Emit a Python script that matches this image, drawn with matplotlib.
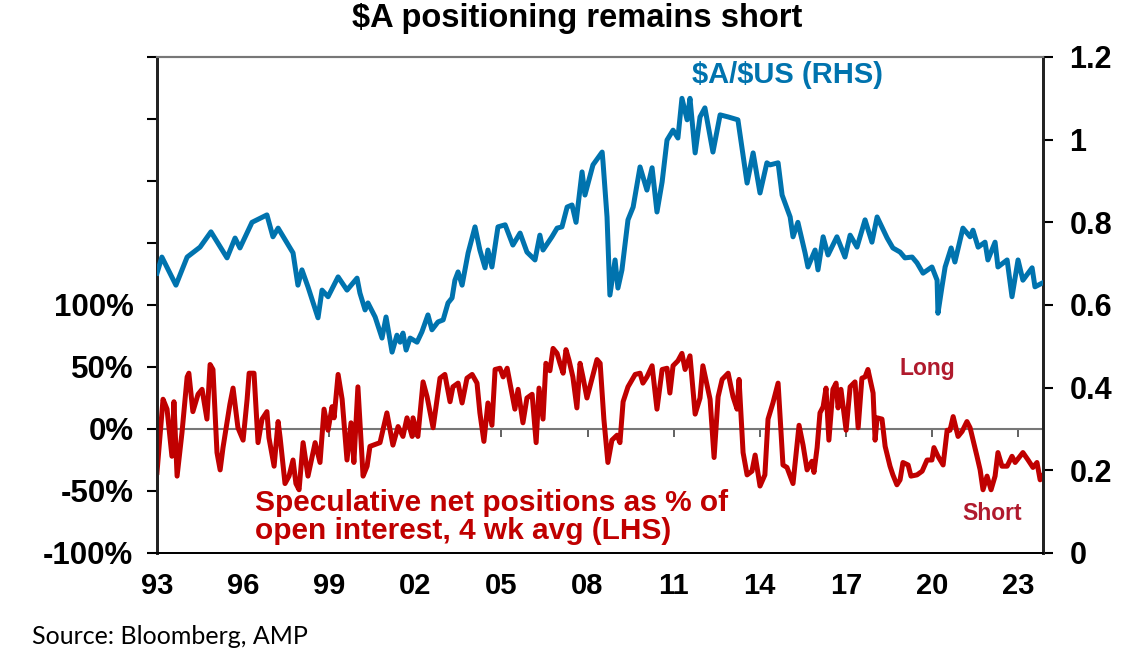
import matplotlib
matplotlib.use("Agg")
import matplotlib.pyplot as plt
from matplotlib.ticker import FuncFormatter

# $A/$US (right axis)
aud_years = [1993.00, 1993.17, 1993.66, 1994.05, 1994.50, 1994.88, 1995.44, 1995.72, 1995.89,
             1996.31, 1996.83, 1997.04, 1997.22, 1997.53, 1997.74, 1997.91, 1998.05, 1998.26,
             1998.61, 1998.75, 1998.96, 1999.31, 1999.62, 1999.97, 2000.07, 2000.25, 2000.35,
             2000.60, 2000.84, 2000.98, 2001.19, 2001.36, 2001.47, 2001.57, 2001.68, 2001.82,
             2002.06, 2002.23, 2002.44, 2002.58, 2002.79, 2002.97, 2003.14, 2003.28, 2003.38,
             2003.49, 2003.63, 2003.84, 2004.08, 2004.25, 2004.43, 2004.53, 2004.67, 2004.88,
             2005.13, 2005.40, 2005.65, 2005.89, 2006.17, 2006.34, 2006.45, 2006.76, 2006.94,
             2007.11, 2007.29, 2007.46, 2007.60, 2007.81, 2007.91, 2008.19, 2008.51, 2008.54,
             2008.68, 2008.78, 2008.96, 2009.06, 2009.20, 2009.41, 2009.59, 2009.83, 2010.07,
             2010.25, 2010.42, 2010.60, 2010.77, 2010.98, 2011.15, 2011.29, 2011.47, 2011.57,
             2011.75, 2011.92, 2012.09, 2012.37, 2012.62, 2012.90, 2013.24, 2013.56, 2013.77,
             2014.01, 2014.25, 2014.36, 2014.64, 2014.78, 2015.06, 2015.16, 2015.33, 2015.58,
             2015.68, 2015.93, 2016.03, 2016.21, 2016.38, 2016.69, 2016.97, 2017.15, 2017.39,
             2017.67, 2017.91, 2018.09, 2018.44, 2018.64, 2018.89, 2019.06, 2019.31, 2019.48,
             2019.69, 2020.00, 2020.18, 2020.21, 2020.35, 2020.46, 2020.67, 2020.80, 2021.08,
             2021.33, 2021.43, 2021.61, 2021.85, 2021.95, 2022.20, 2022.30, 2022.62, 2022.79,
             2023.00, 2023.17, 2023.49, 2023.59, 2023.84]
aud_usd = [0.677, 0.716, 0.648, 0.716, 0.740, 0.777, 0.714, 0.762, 0.738,
           0.800, 0.818, 0.765, 0.786, 0.750, 0.726, 0.648, 0.685, 0.644,
           0.569, 0.636, 0.620, 0.668, 0.636, 0.665, 0.629, 0.588, 0.605,
           0.571, 0.520, 0.571, 0.486, 0.527, 0.510, 0.532, 0.491, 0.520,
           0.510, 0.535, 0.576, 0.540, 0.559, 0.564, 0.605, 0.617, 0.660,
           0.680, 0.648, 0.726, 0.789, 0.733, 0.690, 0.733, 0.692, 0.789,
           0.794, 0.745, 0.774, 0.728, 0.709, 0.769, 0.733, 0.765, 0.786,
           0.789, 0.837, 0.842, 0.800, 0.922, 0.866, 0.939, 0.970, 0.946,
           0.813, 0.624, 0.709, 0.641, 0.685, 0.806, 0.837, 0.934, 0.878,
           0.932, 0.825, 0.898, 0.999, 1.023, 1.004, 1.100, 1.048, 1.100,
           0.968, 1.055, 1.077, 0.970, 1.060, 1.055, 1.048, 0.895, 0.968,
           0.871, 0.944, 0.939, 0.944, 0.866, 0.813, 0.765, 0.800, 0.726,
           0.692, 0.733, 0.685, 0.765, 0.721, 0.765, 0.716, 0.769, 0.740,
           0.806, 0.752, 0.813, 0.762, 0.738, 0.728, 0.714, 0.716, 0.702,
           0.677, 0.692, 0.660, 0.580, 0.644, 0.692, 0.738, 0.704, 0.786,
           0.765, 0.781, 0.740, 0.752, 0.709, 0.752, 0.692, 0.709, 0.620,
           0.709, 0.660, 0.690, 0.644, 0.653]

# speculative net positions, % of open interest (left axis)
pos_years = [1993.00, 1993.21, 1993.35, 1993.52, 1993.59, 1993.70, 1993.87, 1994.05, 1994.11,
             1994.25, 1994.43, 1994.57, 1994.74, 1994.85, 1994.95, 1995.09, 1995.20, 1995.30,
             1995.54, 1995.65, 1995.82, 1996.00, 1996.14, 1996.21, 1996.38, 1996.52, 1996.66,
             1996.83, 1996.90, 1997.08, 1997.22, 1997.29, 1997.46, 1997.60, 1997.74, 1997.84,
             1997.95, 1998.09, 1998.26, 1998.51, 1998.68, 1998.82, 1998.96, 1999.10, 1999.17,
             1999.31, 1999.45, 1999.62, 1999.76, 1999.86, 2000.00, 2000.18, 2000.32, 2000.42,
             2000.77, 2001.01, 2001.22, 2001.40, 2001.57, 2001.71, 2001.89, 2001.92, 2002.09,
             2002.27, 2002.41, 2002.62, 2002.86, 2003.03, 2003.21, 2003.31, 2003.49, 2003.63,
             2003.80, 2003.98, 2004.15, 2004.25, 2004.39, 2004.53, 2004.67, 2004.78, 2004.95,
             2005.06, 2005.20, 2005.37, 2005.47, 2005.58, 2005.75, 2005.89, 2006.07, 2006.21,
             2006.31, 2006.45, 2006.55, 2006.69, 2006.80, 2006.94, 2007.04, 2007.15, 2007.25,
             2007.36, 2007.49, 2007.63, 2007.74, 2007.84, 2007.98, 2008.16, 2008.33, 2008.44,
             2008.57, 2008.71, 2008.85, 2009.03, 2009.13, 2009.24, 2009.41, 2009.66, 2009.83,
             2009.93, 2010.07, 2010.25, 2010.42, 2010.60, 2010.77, 2010.87, 2010.98, 2011.15,
             2011.29, 2011.40, 2011.57, 2011.75, 2011.92, 2012.02, 2012.27, 2012.41, 2012.55,
             2012.69, 2012.90, 2013.07, 2013.21, 2013.28, 2013.42, 2013.56, 2013.73, 2013.84,
             2014.01, 2014.18, 2014.29, 2014.46, 2014.64, 2014.81, 2014.95, 2015.13, 2015.16,
             2015.26, 2015.37, 2015.51, 2015.65, 2015.82, 2015.89, 2016.00, 2016.10, 2016.21,
             2016.31, 2016.41, 2016.55, 2016.66, 2016.73, 2016.83, 2017.01, 2017.15, 2017.32,
             2017.43, 2017.56, 2017.67, 2017.77, 2017.95, 2018.02, 2018.09, 2018.26, 2018.37,
             2018.54, 2018.64, 2018.78, 2018.89, 2018.99, 2019.17, 2019.27, 2019.48, 2019.66,
             2019.83, 2020.00, 2020.07, 2020.21, 2020.39, 2020.53, 2020.63, 2020.74, 2020.91,
             2021.05, 2021.22, 2021.33, 2021.57, 2021.68, 2021.78, 2021.92, 2022.06, 2022.20,
             2022.30, 2022.44, 2022.62, 2022.79, 2022.90, 2023.17, 2023.35, 2023.52, 2023.66,
             2023.77, 2023.84]
pos_pct = [-35, 24, 16, -22, 22, -38, -3, 42, 45,
           14, 28, 32, 8, 52, 48, -19, -33, -15,
           20, 33, 1, -9, 24, 45, 45, -11, 8,
           14, -7, -30, 6, -7, -44, -38, -25, -44,
           -49, -11, -38, -11, -27, 16, -1, 18, 9,
           44, 24, -25, 5, -27, 34, -38, -30, -14,
           -11, 13, -13, 2, -6, 9, -6, 9, -6,
           38, 26, 1, 41, 44, 22, 34, 37, 21,
           41, 44, 37, 13, -10, 21, 3, 48, 49,
           42, 49, 28, 16, 32, 5, 25, 28, -11,
           33, 8, 53, 47, 65, 61, 53, 45, 64,
           55, 42, 17, 53, 42, 25, 41, 56, 53,
           8, -27, -9, -5, -11, 22, 34, 44, 45,
           37, 42, 51, 16, 48, 49, 29, 51, 55,
           61, 48, 59, 12, 25, 51, 24, -23, 26,
           40, 45, 26, 16, 40, -19, -37, -34, -21,
           -46, -37, 8, 21, 37, -29, -31, -42, -44,
           -22, 3, -13, -33, -26, -35, -15, 13, 18,
           33, -9, 32, 37, 17, 32, -1, 34, 38,
           1, 41, 42, 48, 29, -9, 9, 8, -14,
           -30, -37, -45, -41, -27, -29, -38, -37, -34,
           -25, -25, -15, -22, -29, -1, -1, 10, -6,
           -2, 6, 1, -22, -33, -49, -38, -49, -38,
           -19, -30, -30, -22, -27, -19, -25, -31, -27,
           -41, -38]

year_ticks = list(range(1993, 2024, 3))
year_labels = [f"{y % 100:02d}" for y in year_ticks]

BLUE = "#0073AE"
RED = "#C00000"
LABEL_RED = "#B01A2D"

plt.rcParams["font.family"] = ["Liberation Sans", "DejaVu Sans"]
plt.rcParams["text.parse_math"] = False

fig = plt.figure(figsize=(11.43, 6.69), dpi=100)
ax = fig.add_axes([157 / 1143, 1 - 553 / 669, 886 / 1143, 496 / 669])
ax2 = ax.twinx()

ax.plot(pos_years, pos_pct, color=RED, lw=3.6, solid_joinstyle="round", zorder=3)
ax2.plot(aud_years, aud_usd, color=BLUE, lw=3.6, solid_joinstyle="round", zorder=3)

ax.set_xlim(1993, 2023.87)
ax.set_ylim(-100, 300)
ax2.set_ylim(0, 1.2)

# left axis
ax.set_yticks(range(-100, 301, 50))
ax.yaxis.set_major_formatter(FuncFormatter(lambda v, p: f"{v:.0f}%" if v <= 100 else ""))
ax.tick_params(axis="y", direction="out", length=7, width=1.5, pad=10,
               labelsize=22.5, colors="black")
for lbl in ax.get_yticklabels():
    lbl.set_fontweight("bold")

# right axis
ax2.set_yticks([0, 0.2, 0.4, 0.6, 0.8, 1.0, 1.2])
ax2.yaxis.set_major_formatter(FuncFormatter(lambda v, p: f"{v:g}"))
ax2.tick_params(axis="y", direction="out", length=7, width=1.5, pad=12, labelsize=22)
for lbl in ax2.get_yticklabels():
    lbl.set_fontweight("bold")

# x labels sit at the bottom, tick marks on the zero line
ax.set_xticks(year_ticks)
ax.set_xticklabels(year_labels, fontsize=21, fontweight="bold")
ax.tick_params(axis="x", length=0, pad=14)
zero_axis = ax.secondary_xaxis(0.25)
zero_axis.set_xticks(year_ticks)
zero_axis.set_xticklabels([""] * len(year_ticks))
zero_axis.tick_params(axis="x", direction="out", length=6, width=1.3, colors="#555555")
zero_axis.spines["bottom"].set_color("#777777")
zero_axis.spines["bottom"].set_linewidth(1.5)

for a in (ax, ax2):
    a.spines["top"].set_color("#777777")
    a.spines["top"].set_linewidth(1.5)
    a.spines["bottom"].set_color("black")
    a.spines["bottom"].set_linewidth(1.3)
    a.spines["left"].set_linewidth(2)
    a.spines["right"].set_linewidth(2)
    a.spines["left"].set_color("#222222")
    a.spines["right"].set_color("#222222")

fig.text(577 / 1143, 1 - 18 / 669, "$A positioning remains short", ha="center", va="center",
         fontsize=23.5, fontweight="bold")
fig.text(787 / 1143, 1 - 75 / 669, "$A/$US (RHS)", ha="center", va="center",
         fontsize=21, fontweight="bold", color=BLUE)
fig.text(255 / 1143, 1 - 517 / 669, "Speculative net positions as % of\nopen interest, 4 wk avg (LHS)",
         ha="left", va="center", fontsize=21.5, fontweight="bold", color=RED, linespacing=1.02)
fig.text(927 / 1143, 1 - 369 / 669, "Long", ha="center", va="center",
         fontsize=16.5, fontweight="bold", color=LABEL_RED)
fig.text(992 / 1143, 1 - 514 / 669, "Short", ha="center", va="center",
         fontsize=16.5, fontweight="bold", color=LABEL_RED)
fig.text(32 / 1143, 1 - 637 / 669, "Source: Bloomberg, AMP", ha="left", va="center",
         fontsize=18, family=["Lato", "DejaVu Sans"])

fig.savefig("out.png", dpi=100)
